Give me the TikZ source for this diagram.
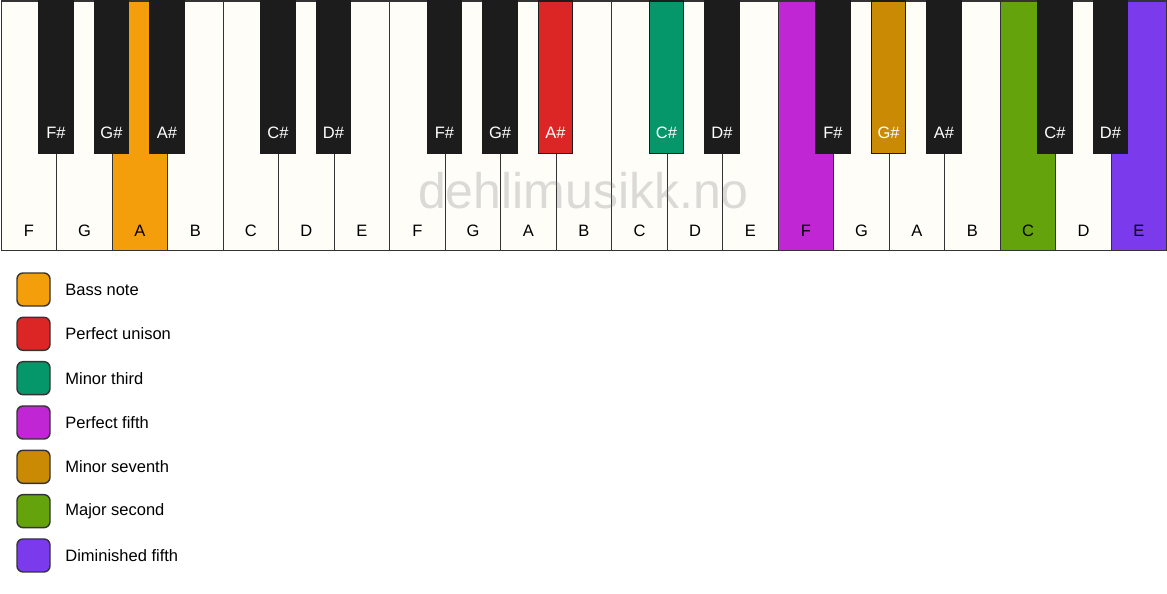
\documentclass[tikz,border=0pt]{standalone}
\usepackage{fontspec}
\setmainfont{Liberation Sans}
\usepackage{tikz}
\usetikzlibrary{positioning}

\definecolor{bassnote}{HTML}{F59E0B}
\definecolor{unison}{HTML}{DC2626}
\definecolor{minthird}{HTML}{059669}
\definecolor{perffifth}{HTML}{C026D3}
\definecolor{minseventh}{HTML}{CA8A04}
\definecolor{majsecond}{HTML}{65A30D}
\definecolor{dimfifth}{HTML}{7C3AED}
\definecolor{ivory}{HTML}{FFFDF8}
\definecolor{ebony}{HTML}{1C1C1C}
\definecolor{keyline}{HTML}{333333}
\definecolor{wmark}{HTML}{808080}

\begin{document}
\begin{tikzpicture}[x=1pt, y=-1pt]
            \tikzstyle{whitekey} = [draw=keyline, line width=1.4pt, fill=ivory, rectangle, anchor=north west, minimum width=55.5pt, minimum height=249pt, inner sep=0pt]
            \tikzstyle{blackkey} = [draw=ebony, line width=1.4pt, fill=ebony, rectangle, anchor=north, minimum width=34pt, minimum height=152.5pt, inner sep=0pt]
            \tikzstyle{keylabel} = [inner sep=0pt, font=\fontsize{16.5}{19}\selectfont]
            \tikzstyle{legendbox} = [draw=keyline, line width=1.4pt, rectangle, rounded corners=6pt, minimum size=33pt, inner sep=0pt]
            \tikzstyle{legendtext} = [anchor=west, inner sep=0pt, font=\fontsize{16.5}{19}\selectfont]

            \useasboundingbox (0,0) rectangle (1167,594);

            % white keys
            \foreach \name [count=\i from 0] in {F,G,A,B,C,D,E,F,G,A,B,C,D,E,F,G,A,B,C,D,E} {
                \node[whitekey] (wk\i) at (0.5+\i*55.5, 0.5) {};
                \node[keylabel] (wl\i) at ([yshift=20.5pt]wk\i.south) {\name};
            }
            \node[whitekey, fill=bassnote] (wk2) at (0.5+2*55.5, 0.5) {};
            \node[keylabel] at ([yshift=20.5pt]wk2.south) {A};
            \node[whitekey, fill=perffifth] (wk14) at (0.5+14*55.5, 0.5) {};
            \node[keylabel] at ([yshift=20.5pt]wk14.south) {F};
            \node[whitekey, fill=majsecond] (wk18) at (0.5+18*55.5, 0.5) {};
            \node[keylabel] at ([yshift=20.5pt]wk18.south) {C};
            \node[whitekey, fill=dimfifth] (wk20) at (0.5+20*55.5, 0.5) {};
            \node[keylabel] at ([yshift=20.5pt]wk20.south) {E};

            \node[text=wmark, text opacity=0.28, inner sep=0pt, anchor=base, font=\fontsize{50}{54}\selectfont] (mark) at (583.5, 208) {dehlimusikk.no};

            % black keys
            \foreach \j/\name/\col in {0/F\#/ebony, 1/G\#/ebony, 2/A\#/ebony, 4/C\#/ebony, 5/D\#/ebony,
                                       7/F\#/ebony, 8/G\#/ebony, 9/A\#/unison, 11/C\#/minthird, 12/D\#/ebony,
                                       14/F\#/ebony, 15/G\#/minseventh, 16/A\#/ebony, 18/C\#/ebony, 19/D\#/ebony} {
                \node[blackkey, fill=\col] (bk\j) at (0.5+\j*55.5+55.5, 0.5) {};
                \node[keylabel, text=white] (bl\j) at ([yshift=21.5pt]bk\j.south) {\name};
            }

            % legend
            \foreach \col/\txt [count=\k from 0] in {bassnote/Bass note, unison/Perfect unison, minthird/Minor third,
                                                   perffifth/Perfect fifth, minseventh/Minor seventh,
                                                   majsecond/Major second, dimfifth/Diminished fifth} {
                \node[legendbox, fill=\col] (lb\k) at (33.5, 289.5+\k*44.33) {};
                \node[legendtext] (lt\k) at ([xshift=14.5pt]lb\k.east) {\txt};
            }
        \end{tikzpicture}
\end{document}
